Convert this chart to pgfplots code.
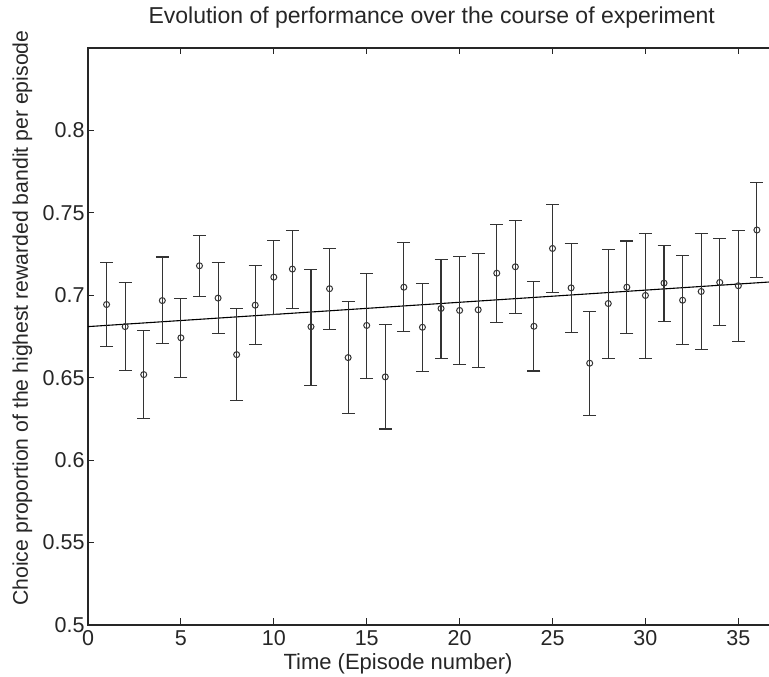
\documentclass[border=0pt]{standalone}
\usepackage{pgfplots}
\pgfplotsset{compat=1.18}
\usepackage{pgfplotstable}
\usepackage{fontspec}
\setmainfont{Liberation Sans}
\definecolor{bar}{HTML}{333333}
\pgfplotstableread{
x y hi lo
1 0.6944 0.7197 0.6691
2 0.6810 0.7076 0.6543
3 0.6519 0.6788 0.6250
4 0.6968 0.7232 0.6707
5 0.6742 0.6981 0.6501
6 0.7179 0.7365 0.6995
7 0.6983 0.7199 0.6766
8 0.6640 0.6920 0.6363
9 0.6940 0.7181 0.6701
10 0.7110 0.7335 0.6881
11 0.7159 0.7394 0.6922
12 0.6809 0.7159 0.6454
13 0.7040 0.7284 0.6790
14 0.6622 0.6964 0.6282
15 0.6817 0.7134 0.6497
16 0.6505 0.6823 0.6189
17 0.7049 0.7319 0.6782
18 0.6806 0.7072 0.6539
19 0.6920 0.7219 0.6616
20 0.6908 0.7236 0.6578
21 0.6912 0.7256 0.6564
22 0.7134 0.7430 0.6837
23 0.7173 0.7453 0.6891
24 0.6812 0.7084 0.6541
25 0.7284 0.7552 0.7015
26 0.7045 0.7315 0.6776
27 0.6588 0.6902 0.6272
28 0.6950 0.7280 0.6618
29 0.7049 0.7329 0.6770
30 0.6999 0.7375 0.6618
31 0.7074 0.7303 0.6843
32 0.6970 0.7242 0.6701
33 0.7023 0.7377 0.6671
34 0.7078 0.7345 0.6815
35 0.7058 0.7394 0.6721
36 0.7396 0.7683 0.7110
}\datatable
\begin{document}
\begin{tikzpicture}
\begin{axis}[
  at={(0,0)}, anchor=south west,
  scale only axis, width=687.5bp, height=577bp,
  xmin=0, xmax=37, ymin=0.5, ymax=0.85,
  xtick={0,5,10,15,20,25,30,35},
  ytick={0.5,0.55,0.6,0.65,0.7,0.75,0.8},
  yticklabels={0.5,0.55,0.6,0.65,0.7,0.75,0.8},
  tick align=inside, major tick length=6.5bp,
  axis line style={line width=1.1bp, color=black!85},
  every tick/.style={line width=0.9bp, color=black!85},
  /pgf/number format/assume math mode=true,
  tick label style={font=\fontsize{21.5bp}{25bp}\selectfont, text=black!85},
  xticklabel style={yshift=-2bp},
  title={Evolution of performance over the course of experiment},
  title style={font=\fontsize{23bp}{27bp}\selectfont, at={(axis description cs:0.5,1)}, anchor=base, yshift=19bp, text=black!85},
  xlabel={Time (Episode number)},
  xlabel style={font=\fontsize{22bp}{26bp}\selectfont, at={(axis description cs:0.451,0)}, anchor=base, yshift=-44bp, text=black!85},
  ylabel={Choice proportion of the highest rewarded bandit per episode},
  ylabel style={font=\fontsize{21.2bp}{25bp}\selectfont, at={(axis description cs:-0.0873,0.532)}, anchor=base, text=black!85},
  clip=false,
]
\addplot[color=black, line width=1.1bp] coordinates {(0,0.681) (37,0.7083)};
\addplot[color=bar, only marks, mark=o, mark size=3bp, mark options={line width=1bp},
  error bars/.cd, y dir=both, y explicit,
  error bar style={line width=1.1bp, color=bar},
  error mark options={rotate=90, mark size=6.5bp, line width=1.1bp, color=bar}]
  table[x=x, y=y, y error plus expr=\thisrow{hi}-\thisrow{y}, y error minus expr=\thisrow{y}-\thisrow{lo}] {\datatable};
\end{axis}
\pgfresetboundingbox
\useasboundingbox (-88bp,-52bp) rectangle (681bp,625bp);
\end{tikzpicture}
\end{document}
